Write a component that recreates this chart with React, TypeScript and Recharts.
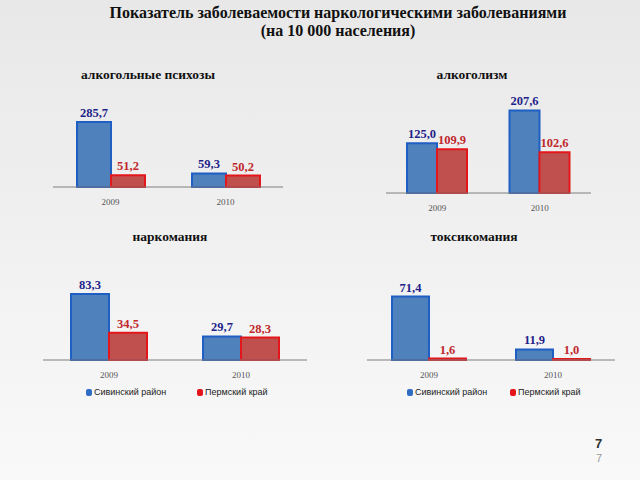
import React from "react";
import { BarChart, Bar, XAxis, YAxis, LabelList } from "recharts";

const years = ["2009", "2010"];

const psychosesSiva = [285.7, 59.3];
const psychosesPerm = [51.2, 50.2];

const alcoholismSiva = [125.0, 207.6];
const alcoholismPerm = [109.9, 102.6];

const narcomaniaSiva = [83.3, 29.7];
const narcomaniaPerm = [34.5, 28.3];

const toxicomaniaSiva = [71.4, 11.9];
const toxicomaniaPerm = [1.6, 1.0];

const SERIF = '"Liberation Serif", "Times New Roman", serif';
const SANS = '"Liberation Sans", Arial, sans-serif';

const fmt = (v: any) => Number(v).toFixed(1).replace(".", ",");

// value label drawn above each bar
const makeLabel = (color: string) => (props: any) => {
  const { x, y, width, value } = props;
  return (
    <text
      x={Number(x) + Number(width) / 2}
      y={Number(y) - 5}
      textAnchor="middle"
      style={{ fontFamily: SERIF, fontWeight: "bold", fontSize: 12.5, fill: color }}
    >
      {fmt(value)}
    </text>
  );
};

const YearTick = (props: any) => {
  const { x, y, payload } = props;
  return (
    <text
      x={x}
      y={Number(y) + 10}
      textAnchor="middle"
      style={{ fontFamily: SERIF, fontSize: 9, fill: "#555" }}
    >
      {payload.value}
    </text>
  );
};

type ChartProps = {
  siva: number[];
  perm: number[];
  yMax: number;
  left: number;
  top: number;
  width: number;
  height: number;
  gap: number;
};

const PAD = 30;

function MiniChart({ siva, perm, yMax, left, top, width, height, gap }: ChartProps) {
  const data = years.map((year, i) => ({ year, siva: siva[i], perm: perm[i] }));

  return (
    <div style={{ position: "absolute", left, top: top - PAD, width, height: height + PAD }}>
      <BarChart
        width={width}
        height={height + PAD}
        data={data}
        margin={{ top: PAD, right: 0, bottom: 0, left: 0 }}
        barCategoryGap={gap}
        barGap={0}
      >
        <XAxis
          dataKey="year"
          axisLine={{ stroke: "#7f7f7f", strokeWidth: 1 }}
          tickLine={false}
          height={20}
          interval={0}
          tick={<YearTick />}
        />
        <YAxis hide domain={[0, yMax]} />
        <Bar
          dataKey="siva"
          fill="#4f81bd"
          stroke="#1f5fc4"
          strokeWidth={2}
          isAnimationActive={false}
        >
          <LabelList dataKey="siva" content={makeLabel("#1f1f8a")} />
        </Bar>
        <Bar
          dataKey="perm"
          fill="#c0504d"
          stroke="#e3161c"
          strokeWidth={2}
          isAnimationActive={false}
        >
          <LabelList dataKey="perm" content={makeLabel("#c0282d")} />
        </Bar>
      </BarChart>
    </div>
  );
}

function Title({ text, cx, y }: { text: string; cx: number; y: number }) {
  return (
    <div
      style={{
        position: "absolute",
        left: cx - 150,
        top: y,
        width: 300,
        textAlign: "center",
        fontFamily: SERIF,
        fontWeight: "bold",
        fontSize: 13.5,
        color: "#111",
      }}
    >
      {text}
    </div>
  );
}

function LegendItem({ x, y, color, label }: { x: number; y: number; color: string; label: string }) {
  return (
    <div
      style={{
        position: "absolute",
        left: x,
        top: y,
        display: "flex",
        alignItems: "center",
        fontFamily: SANS,
        fontSize: 9,
        color: "#222",
        whiteSpace: "nowrap",
      }}
    >
      <span
        style={{
          display: "inline-block",
          width: 6,
          height: 7,
          borderRadius: 2,
          background: color,
          marginRight: 2,
        }}
      />
      {label}
    </div>
  );
}

export default function App() {
  return (
    <div
      style={{
        position: "absolute",
        left: 0,
        top: 0,
        width: 640,
        height: 480,
        overflow: "hidden",
        background: "linear-gradient(to bottom, #e8e8e8, #f9f9f9)",
      }}
    >
      <div
        style={{
          position: "absolute",
          left: 38,
          top: 4,
          width: 600,
          textAlign: "center",
          fontFamily: SERIF,
          fontWeight: "bold",
          fontSize: 16,
          lineHeight: "18px",
          color: "#111",
        }}
      >
        Показатель заболеваемости наркологическими заболеваниями
        <br />
        (на 10 000 населения)
      </div>

      <Title text="алкогольные психозы" cx={148} y={67} />
      <Title text="алкоголизм" cx={472} y={67} />
      <Title text="наркомания" cx={170} y={229} />
      <Title text="токсикомания" cx={474} y={229} />

      <MiniChart siva={psychosesSiva} perm={psychosesPerm} yMax={382} left={53} top={100} width={230} height={107} gap={24} />
      <MiniChart siva={alcoholismSiva} perm={alcoholismPerm} yMax={234} left={386} top={100} width={205} height={113} gap={21} />
      <MiniChart siva={narcomaniaSiva} perm={narcomaniaPerm} yMax={101} left={43} top={280} width={264} height={100} gap={28} />
      <MiniChart siva={toxicomaniaSiva} perm={toxicomaniaPerm} yMax={90} left={367} top={280} width={248} height={100} gap={25} />

      <LegendItem x={86} y={387} color="#2f6cc4" label="Сивинский район" />
      <LegendItem x={197} y={387} color="#e3161c" label="Пермский край" />
      <LegendItem x={407} y={387} color="#2f6cc4" label="Сивинский район" />
      <LegendItem x={510} y={387} color="#e3161c" label="Пермский край" />

      <div style={{ position: "absolute", left: 595, top: 436, fontFamily: SANS, fontWeight: "bold", fontSize: 13, lineHeight: "15px", color: "#333" }}>7</div>
      <div style={{ position: "absolute", left: 596, top: 452, fontFamily: SANS, fontSize: 11, lineHeight: "13px", color: "#999" }}>7</div>
    </div>
  );
}
